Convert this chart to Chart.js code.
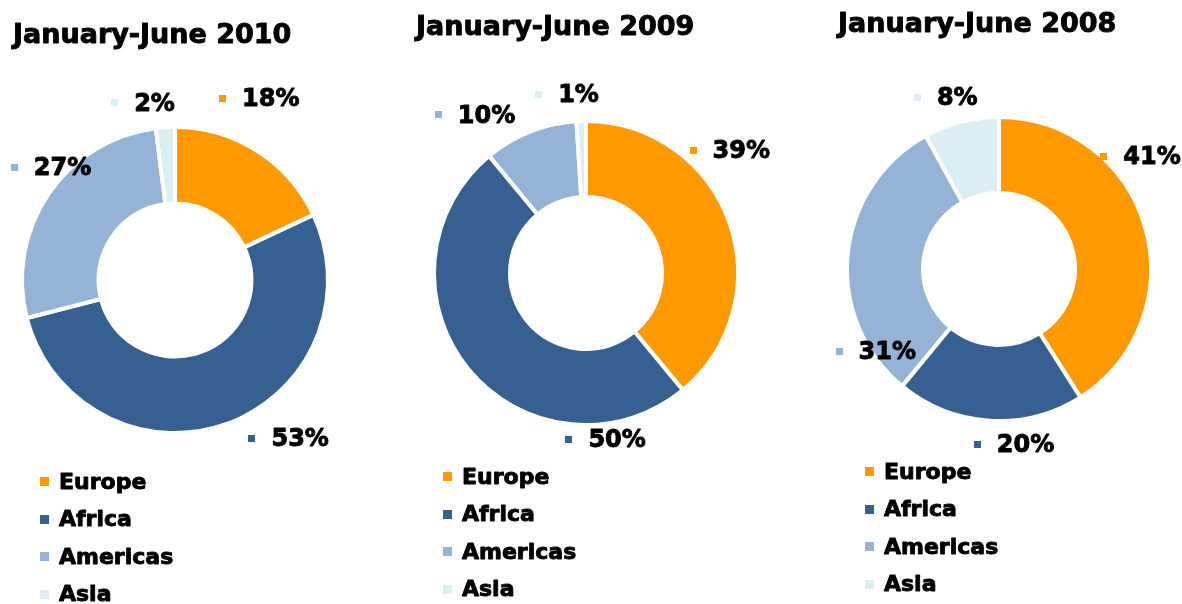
<!DOCTYPE html>
<html>
<head>
<meta charset="utf-8">
<script src="https://cdn.jsdelivr.net/npm/chart.js@4.4.0/dist/chart.umd.min.js"></script>
<style>
  body { margin: 0; background: #fff; width: 1182px; height: 604px; overflow: hidden; position: relative; }
  canvas { position: absolute; top: 0; }
</style>
</head>
<body>
<canvas id="chart2010" width="395" height="604" style="left:0px"></canvas>
<canvas id="chart2009" width="415" height="604" style="left:395px"></canvas>
<canvas id="chart2008" width="372" height="604" style="left:810px"></canvas>
<script>
// datos
var regiones = ["Europe", "Africa", "Americas", "Asia"];
var colores = ["#FF9900", "#376092", "#95B3D7", "#DBEEF4"];
var titulos = ["January-June 2010", "January-June 2009", "January-June 2008"];
var datos2010 = [18, 53, 27, 2];
var datos2009 = [39, 50, 10, 1];
var datos2008 = [41, 20, 31, 8];

var fuente = '"DejaVu Sans", Verdana, sans-serif';

// texto un poco mas grueso, como Verdana negrita
function textoGrueso(ctx, txt, x, y) {
  ctx.fillText(txt, x, y);
  ctx.strokeText(txt, x, y);
}

// dibuja titulo, etiquetas con cuadradito y la leyenda
var decoExcel = {
  id: 'decoExcel',
  afterDraw: function(chart, args, opts) {
    var ctx = chart.ctx;
    ctx.save();
    ctx.strokeStyle = '#000';
    ctx.lineWidth = 0.9;
    ctx.lineJoin = 'round';

    // titulo
    ctx.fillStyle = '#000';
    ctx.font = 'bold 27px ' + fuente;
    ctx.textAlign = 'left';
    ctx.textBaseline = 'alphabetic';
    textoGrueso(ctx, opts.titulo, opts.tituloX, opts.tituloY);

    // etiquetas de porcentaje
    var arcos = chart.getDatasetMeta(0).data;
    var valores = chart.data.datasets[0].data;
    ctx.font = 'bold 24px ' + fuente;
    ctx.textBaseline = 'middle';
    arcos.forEach(function(arco, i) {
      var medio = (arco.startAngle + arco.endAngle) / 2;
      var R = arco.outerRadius + 38;
      var ajuste = opts.ajustes[i];
      var ax = arco.x + Math.cos(medio) * R + ajuste[0];
      var ay = arco.y + Math.sin(medio) * R + ajuste[1];
      var texto = valores[i] + '%';
      var ancho = 7 + 16 + ctx.measureText(texto).width;
      var x0 = ax - ancho / 2;
      ctx.fillStyle = colores[i];
      ctx.fillRect(Math.round(x0), Math.round(ay - 4), 7, 7);
      ctx.fillStyle = '#000';
      textoGrueso(ctx, texto, x0 + 23, ay + 1);
    });

    // leyenda
    ctx.font = 'bold 22px ' + fuente;
    regiones.forEach(function(reg, i) {
      var y = opts.leyendaY + i * 37.5;
      ctx.fillStyle = colores[i];
      ctx.fillRect(opts.leyendaX, Math.round(y - 5), 9, 9);
      ctx.fillStyle = '#000';
      textoGrueso(ctx, reg, opts.leyendaX + 19, y + 1);
    });

    ctx.restore();
  }
};

function crearDona(id, datos, lay) {
  var pad = {
    left: lay.cx - lay.izq - lay.r - 2,
    right: lay.ancho - (lay.cx - lay.izq) - lay.r - 2,
    top: lay.cy - lay.r - 2,
    bottom: 604 - lay.cy - lay.r - 2
  };
  var ctx = document.getElementById(id).getContext('2d');
  return new Chart(ctx, {
    type: 'doughnut',
    data: {
      labels: regiones,
      datasets: [{
        data: datos,
        backgroundColor: colores,
        borderColor: '#ffffff',
        borderWidth: 4
      }]
    },
    options: {
      responsive: false,
      animation: false,
      events: [],
      cutout: '50%',
      layout: { padding: pad },
      plugins: {
        legend: { display: false },
        tooltip: { enabled: false },
        decoExcel: {
          titulo: lay.titulo,
          tituloX: lay.tituloX - lay.izq,
          tituloY: lay.tituloY,
          leyendaX: lay.leyendaX - lay.izq,
          leyendaY: lay.leyendaY,
          ajustes: lay.ajustes
        }
      }
    },
    plugins: [decoExcel]
  });
}

crearDona('chart2010', datos2010, {
  izq: 0, ancho: 395, cx: 175, cy: 280, r: 153,
  titulo: titulos[0], tituloX: 13, tituloY: 43,
  leyendaX: 40, leyendaY: 482,
  ajustes: [[-18, -20], [49, -21], [34, -5], [-20, 14]]
});
crearDona('chart2009', datos2009, {
  izq: 395, ancho: 415, cx: 586, cy: 273, r: 152,
  titulo: titulos[1], tituloX: 416, tituloY: 35,
  leyendaX: 443, leyendaY: 477,
  ajustes: [[-35, -58], [166, 46], [-41, 19], [-13, 12]]
});
crearDona('chart2008', datos2008, {
  izq: 810, ancho: 372, cx: 999, cy: 269, r: 152,
  titulo: titulos[2], tituloX: 838, tituloY: 32,
  leyendaX: 865, leyendaY: 472,
  ajustes: [[-41, -59], [27, -14], [66, 101], [-6, 13]]
});
</script>
</body>
</html>
